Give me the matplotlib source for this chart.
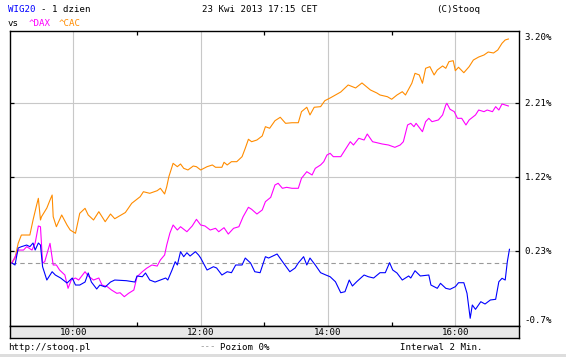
import matplotlib
matplotlib.use("Agg")
import matplotlib.pyplot as plt
import numpy as np

# ---- data (time = minutes after 09:00, values in % as on the axis labels) ----
wig20_t = [2,5,8,11,16,19,22,24,27,29,31,35,40,43,48,54,59,62,66,71,74,77,82,85,90,95,99,110,118,120,
           125,128,132,137,142,147,149,153,156,158,161,164,167,170,175,178,180,186,192,195,200,205,209,213,
           219,222,227,231,236,241,244,252,258,264,269,272,277,280,283,288,293,298,302,307,312,316,320,323,
           327,334,338,343,349,354,358,361,365,370,376,378,382,387,395,397,403,406,411,415,420,423,428,431,
           434,436,439,444,448,453,458,461,464,467,469,471]
wig20_v = [0.074,0.047,0.274,0.292,0.314,0.292,0.341,0.247,0.341,0.314,0.024,-0.154,-0.043,-0.087,-0.127,
           -0.194,-0.127,-0.221,-0.221,-0.181,-0.060,-0.181,-0.274,-0.221,-0.247,-0.181,-0.154,-0.163,-0.181,
           -0.100,-0.110,-0.060,-0.154,-0.181,-0.154,-0.127,-0.154,-0.020,0.091,0.047,0.225,0.158,0.211,0.167,
           0.225,0.181,0.140,-0.020,0.024,0.007,-0.087,-0.043,-0.056,0.047,0.047,0.140,0.074,-0.043,-0.056,
           0.158,0.140,0.194,0.074,-0.043,0.007,0.074,0.158,0.047,0.140,0.047,-0.056,-0.087,-0.110,-0.177,
           -0.324,-0.310,-0.154,-0.234,-0.177,-0.087,-0.110,-0.127,-0.056,-0.056,0.078,-0.020,-0.060,-0.154,
           -0.100,-0.127,-0.030,-0.100,-0.087,-0.221,-0.265,-0.198,-0.265,-0.278,-0.243,-0.190,-0.190,-0.332,
           -0.666,-0.488,-0.546,-0.444,-0.475,-0.421,-0.412,-0.177,-0.131,-0.154,0.091,0.257]

dax_t = [2,7,8,13,16,21,24,27,29,31,33,38,41,44,47,52,55,58,62,65,71,74,79,84,87,92,96,101,104,108,112,
         117,120,125,129,134,139,142,146,148,151,154,158,161,167,172,176,180,184,189,194,197,202,206,211,
         216,220,225,228,233,238,241,246,250,253,257,261,266,272,275,280,285,288,293,296,299,302,305,312,
         315,321,324,329,334,337,342,346,351,357,363,368,371,375,378,381,383,389,392,395,398,404,408,411,
         412,415,419,422,426,430,433,439,442,447,450,455,458,461,464,470]
dax_v = [0.074,0.207,0.247,0.247,0.292,0.247,0.341,0.569,0.559,0.074,0.091,0.337,0.047,0.047,-0.020,
         -0.087,-0.265,-0.154,-0.127,-0.154,-0.043,-0.100,-0.154,-0.127,-0.221,-0.243,-0.288,-0.332,-0.324,
         -0.377,-0.332,-0.288,-0.110,-0.043,0.003,0.047,0.033,0.114,0.181,0.314,0.475,0.582,0.515,0.559,
         0.492,0.569,0.658,0.582,0.569,0.515,0.538,0.492,0.546,0.461,0.538,0.559,0.693,0.819,0.792,0.729,
         0.783,0.894,0.952,1.117,1.140,1.073,1.086,1.073,1.073,1.207,1.295,1.251,1.340,1.385,1.429,1.518,
         1.541,1.496,1.496,1.563,1.696,1.652,1.742,1.719,1.799,1.696,1.683,1.666,1.652,1.621,1.652,1.696,
         1.920,1.942,1.897,1.942,1.830,1.964,2.009,1.964,1.987,2.054,2.187,2.210,2.130,2.098,2.009,2.009,
         1.920,1.987,2.054,2.120,2.098,2.120,2.098,2.165,2.120,2.201,2.174]

cac_t = [2,5,8,11,16,19,22,25,27,29,30,35,38,40,41,44,49,54,57,62,66,71,74,79,84,90,95,99,109,115,123,
         126,132,139,142,146,148,150,154,158,161,164,168,173,176,180,186,191,194,200,202,205,209,214,219,
         222,225,228,233,238,241,245,250,255,260,266,272,275,280,283,287,293,297,302,312,319,326,332,340,
         346,349,356,360,365,370,373,379,382,386,389,392,396,400,403,408,411,414,418,420,423,428,433,437,
         442,447,451,456,460,464,467,470]
cac_v = [0.074,0.140,0.337,0.448,0.448,0.448,0.649,0.827,0.939,0.649,0.693,0.809,0.916,0.983,0.693,
         0.559,0.716,0.582,0.515,0.471,0.738,0.805,0.716,0.649,0.760,0.626,0.729,0.666,0.749,0.872,0.961,
         1.027,1.006,1.041,1.073,0.997,1.094,1.228,1.407,1.362,1.398,1.340,1.318,1.371,1.362,1.318,1.362,
         1.385,1.354,1.354,1.421,1.385,1.429,1.429,1.496,1.608,1.729,1.696,1.719,1.773,1.897,1.876,1.977,
         2.023,1.942,1.950,1.950,2.098,2.157,2.054,2.157,2.165,2.245,2.281,2.361,2.455,2.415,2.482,2.388,
         2.348,2.321,2.298,2.264,2.321,2.365,2.321,2.478,2.611,2.589,2.478,2.678,2.700,2.589,2.656,2.709,
         2.678,2.767,2.780,2.646,2.692,2.619,2.700,2.789,2.829,2.856,2.896,2.883,2.923,3.013,3.057,3.070]

zero_level = 0.074          # "Poziom 0%" reference line
grid_levels = [0.23, 1.22, 2.21]
grid_labels = ["0.23%", "1.22%", "2.21%"]
top_label, top_level = "3.20%", 3.084
bottom_label, bottom_level = "-0.7%", -0.689
hour_labels = ["10:00", "12:00", "14:00", "16:00"]
major_hours = [10, 12, 14, 16]
minor_hours = [11, 13, 15]

W, H = 566, 357
fig = plt.figure(figsize=(W / 100, H / 100), dpi=100)
fig.patch.set_facecolor("white")

def fx(px):
    return px / W

def fy(py):
    return 1 - py / H

L, R, T, B = 9.7, 519.0, 31.0, 326.0
ax = fig.add_axes([fx(L), fy(B), (R - L) / W, (B - T) / H])
ax.set_xlim(9, 17)
ax.set_ylim(-0.769, 3.177)

mono = "DejaVu Sans Mono"
fs = 6.6
lw = 0.8

for g in grid_levels:
    ax.axhline(g, color="#c8c8c8", lw=lw, zorder=1)
for h in major_hours:
    ax.axvline(h, color="#c8c8c8", lw=lw, zorder=1)

def hrs(ts):
    return 9 + np.asarray(ts) / 60.0

ax.plot([hrs(wig20_t)[0], hrs(wig20_t)[-1]], [zero_level, zero_level],
        color="#999999", lw=lw, ls=(0, (4, 3)), zorder=2)
ax.plot(hrs(cac_t), cac_v, color="#ff8c00", lw=lw, zorder=3)
ax.plot(hrs(dax_t), dax_v, color="#ff00ff", lw=lw, zorder=4)
ax.plot(hrs(wig20_t), wig20_v, color="#0000ff", lw=lw, zorder=5)

ax.set_yticks(grid_levels)
ax.set_yticklabels([])
ax.set_xticks(minor_hours)
ax.set_xticklabels([])
ax.tick_params(axis="both", direction="in", length=3, width=0.9, color="black",
               left=True, right=True, top=True, bottom=True)
for s in ax.spines.values():
    s.set_color("black")
    s.set_linewidth(1.0)

# right-hand labels
ytr = ax.get_yaxis_transform()
for g, lab in zip(grid_levels + [top_level, bottom_level],
                  grid_labels + [top_label, bottom_label]):
    ax.annotate(lab, xy=(1.0, g), xycoords=ytr, xytext=(4, 0), textcoords="offset points",
                ha="left", va="center", fontsize=fs, family=mono)

# time band
band = fig.add_axes([fx(L), fy(338), (R - L) / W, 12 / H])
band.set_xlim(9, 17)
band.set_ylim(0, 1)
band.set_facecolor("#e8e8e8")
band.set_xticks([])
band.set_yticks([])
for s in band.spines.values():
    s.set_color("black")
    s.set_linewidth(1.0)
for h, lab in zip(major_hours, hour_labels):
    band.text(h, 0.45, lab, ha="center", va="center", fontsize=fs, family=mono)

# header texts
y1, y2 = 10, 24
fig.text(fx(8), fy(y1), "WIG20", color="#0000ff", fontsize=fs, family=mono, va="center")
fig.text(fx(41), fy(y1), "- 1 dzien", color="black", fontsize=fs, family=mono, va="center")
fig.text(fx(202), fy(y1), "23 Kwi 2013 17:15 CET", color="black", fontsize=fs, family=mono, va="center")
fig.text(fx(436), fy(y1), "(C)Stooq", color="black", fontsize=fs, family=mono, va="center")
fig.text(fx(8), fy(y2), "vs", color="black", fontsize=fs, family=mono, va="center")
fig.text(fx(29), fy(y2), "^DAX", color="#ff00ff", fontsize=fs, family=mono, va="center")
fig.text(fx(59), fy(y2), "^CAC", color="#ff8c00", fontsize=fs, family=mono, va="center")

# footer texts
y3 = 347
fig.text(fx(8), fy(y3), "http://stooq.pl", color="black", fontsize=fs, family=mono, va="center")
fig.text(fx(199), fy(y3), "---", color="#999999", fontsize=fs, family=mono, va="center")
fig.text(fx(220), fy(y3), "Poziom 0%", color="black", fontsize=fs, family=mono, va="center")
fig.text(fx(400), fy(y3), "Interwal 2 Min.", color="black", fontsize=fs, family=mono, va="center")

# light strip at bottom
fig.add_artist(plt.Rectangle((0, 0), 1, 3 / H, transform=fig.transFigure,
                             facecolor="#dddddd", edgecolor="none"))

fig.savefig("out.png", dpi=100, facecolor="white")
